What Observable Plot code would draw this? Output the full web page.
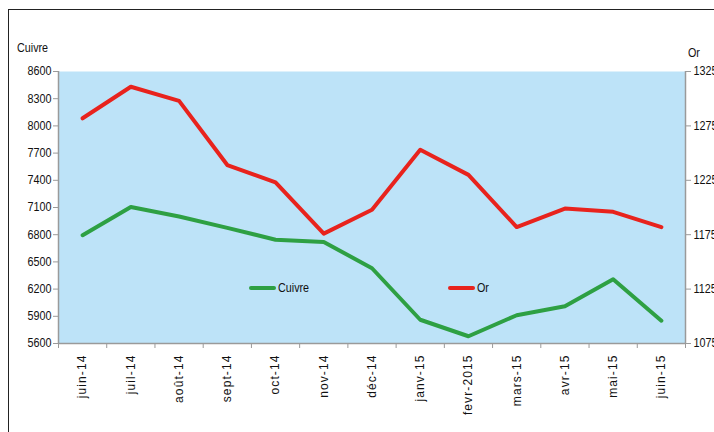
<!DOCTYPE html>
<html>
<head>
<meta charset="utf-8">
<script src="https://cdn.jsdelivr.net/npm/d3@7"></script>
<script src="https://cdn.jsdelivr.net/npm/@observablehq/plot@0.6"></script>
<style>
  html, body { margin: 0; padding: 0; background: #fff; }
  #wrap { position: relative; width: 714px; height: 432px; overflow: hidden; }
  #border { position: absolute; left: 8px; top: 9px; width: 800px; height: 500px; border-left: 1px solid #222; border-top: 1px solid #222; }
  .narrow { font-family: "Liberation Sans", Arial, sans-serif; font-size: 12.5px; color: #111; position: absolute; transform: scaleX(0.86); transform-origin: left top; white-space: nowrap; }
  .swatch { position: absolute; height: 4px; border-radius: 2px; }
  #chart svg [aria-label="x-axis tick label"] text { letter-spacing: 1.1px; font-family: "Liberation Sans", Arial, sans-serif; font-size: 12px; }
  #chart svg [aria-label="y-axis tick label"] text { font-family: "Liberation Sans", Arial, sans-serif; font-size: 12px; }
</style>
</head>
<body>
<div id="wrap">
  <div id="border"></div>
  <div id="chart"></div>
</div>
<script>
// Months of the period, June 2014 to June 2015
const months = ["juin-14", "juil-14", "août-14", "sept-14", "oct-14", "nov-14", "déc-14",
                "janv-15", "fevr-2015", "mars-15", "avr-15", "mai-15", "juin-15"];

// Copper price (left axis)
const cuivre = [6795, 7105, 7000, 6875, 6745, 6720, 6430, 5862, 5680, 5912, 6010, 6308, 5852];

// Gold price (right axis)
const or = [1282, 1311, 1298, 1239, 1223, 1176, 1198, 1253, 1230, 1182, 1199, 1196, 1182];

// Axis ticks
const cuivreTicks = [5600, 5900, 6200, 6500, 6800, 7100, 7400, 7700, 8000, 8300, 8600];
const orTicks = [1075, 1125, 1175, 1225, 1275, 1325];

const C_MIN = 5600, C_MAX = 8600, O_MIN = 1075, O_MAX = 1325;
const orToCuivre = v => C_MIN + (v - O_MIN) * (C_MAX - C_MIN) / (O_MAX - O_MIN);

const green = "#2ea043";
const red = "#e8231d";
const axisGray = "#9a9a9a";

const rows = months.map((m, i) => ({i, month: m, cuivre: cuivre[i], or: orToCuivre(or[i])}));
const idx = d3.range(months.length);
const bounds = d3.range(months.length + 1).map(k => k - 0.5);

const chart = Plot.plot({
  width: 714,
  height: 432,
  marginLeft: 58,
  marginRight: 29,
  marginTop: 71,
  marginBottom: 89,
  style: {fontFamily: "Liberation Sans, Arial, sans-serif", fontSize: "12px", background: "transparent", overflow: "visible"},
  x: {type: "linear", domain: [-0.5, months.length - 0.5]},
  y: {domain: [C_MIN, C_MAX]},
  marks: [
    Plot.frame({fill: "#bde3f8", stroke: null}),
    Plot.ruleY([C_MIN], {stroke: axisGray, strokeWidth: 1.5}),
    Plot.ruleX([-0.5], {stroke: axisGray, strokeWidth: 1.5}),
    Plot.ruleX([months.length - 0.5], {stroke: axisGray, strokeWidth: 1.5}),
    Plot.axisY({anchor: "left", ticks: cuivreTicks, tickFormat: d => String(d), tickSize: 5, tickPadding: 2, stroke: axisGray, fill: "#111", label: null}),
    Plot.axisY({anchor: "right", ticks: orTicks.map(orToCuivre), tickFormat: (d, k) => String(orTicks[k]), tickSize: 5, tickPadding: 3, stroke: axisGray, fill: "#111", label: null}),
    Plot.axisX({ticks: idx, tickFormat: i => months[i], tickSize: 0, tickPadding: 11, tickRotate: -90, fill: "#111", label: null}),
    Plot.axisX({ticks: bounds, tickFormat: () => "", tickSize: 5, stroke: axisGray, label: null}),
    Plot.line(rows, {x: "i", y: "cuivre", stroke: green, strokeWidth: 4}),
    Plot.line(rows, {x: "i", y: "or", stroke: red, strokeWidth: 4})
  ]
});
chart.style.position = "absolute";
chart.style.left = "0px";
chart.style.top = "0px";
document.getElementById("chart").appendChild(chart);

// Slightly condensed numbers on the value axes
chart.querySelectorAll('[aria-label="y-axis tick label"] text').forEach(t => {
  const w = t.getComputedTextLength();
  if (w > 0) {
    t.setAttribute("textLength", (w * 0.9).toFixed(1));
    t.setAttribute("lengthAdjust", "spacingAndGlyphs");
  }
});

// Axis titles and in-plot legend
const wrap = document.getElementById("wrap");
function addText(txt, left, top) {
  const el = document.createElement("div");
  el.className = "narrow";
  el.textContent = txt;
  el.style.left = left + "px";
  el.style.top = top + "px";
  wrap.appendChild(el);
}
function addSwatch(color, left, top, width) {
  const el = document.createElement("div");
  el.className = "swatch";
  el.style.background = color;
  el.style.left = left + "px";
  el.style.top = top + "px";
  el.style.width = width + "px";
  wrap.appendChild(el);
}
addText("Cuivre", 17, 41);
addText("Or", 688, 46);
addSwatch(green, 249, 286, 27);
addText("Cuivre", 278, 281);
addSwatch(red, 448, 286, 27);
addText("Or", 477, 281);
</script>
</body>
</html>
